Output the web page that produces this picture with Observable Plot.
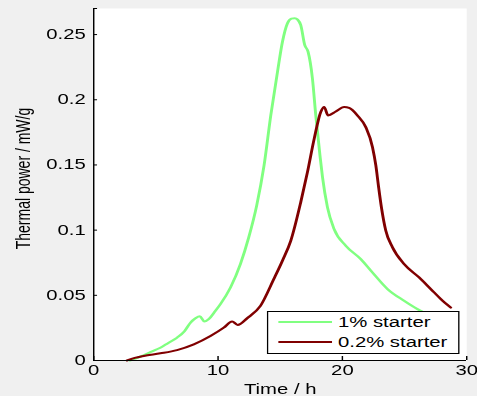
<!DOCTYPE html>
<html>
<head>
<meta charset="utf-8">
<script src="https://cdn.jsdelivr.net/npm/d3@7"></script>
<script src="https://cdn.jsdelivr.net/npm/@observablehq/plot@0.6"></script>
<style>
  html, body { margin: 0; padding: 0; background: #f0f0f0; overflow: hidden; }
  #wrap { position: relative; width: 329px; height: 396px; transform-origin: 0 0;
          font-family: "Liberation Sans", Arial, Helvetica, sans-serif; }
  #legend { position: absolute; box-sizing: border-box; background: #fff; border: 1px solid #000;
            font-size: 14px; color: #000; }
  #legend .row { display: flex; align-items: center; height: 20px; }
  #legend .swatch { display: inline-block; height: 0; border-top: 2px solid; }
</style>
</head>
<body>
<div id="wrap"></div>
<script>
// ---- data ----
const time1 = [2.9, 3.5, 4.0, 4.7, 5.36, 6.0, 6.71, 7.3, 7.78, 8.18, 8.53, 8.9, 9.25, 9.7, 10.19, 11.0, 11.8, 12.47, 13.11, 13.7, 14.24, 14.78, 15.18, 15.58, 15.9, 16.17, 16.4, 16.65, 16.97, 17.24, 17.59, 17.86, 18.2, 18.4, 18.8, 19.33, 20.27, 21.48, 22.42, 23.63, 24.96, 26.04, 27.2, 28.4];
const power1 = [0, 0.002, 0.004, 0.007, 0.0098, 0.0135, 0.0176, 0.0225, 0.029, 0.0324, 0.034, 0.0299, 0.0317, 0.037, 0.0432, 0.056, 0.074, 0.0945, 0.119, 0.1496, 0.188, 0.2214, 0.2445, 0.2586, 0.2622, 0.2626, 0.2615, 0.2573, 0.242, 0.2368, 0.2163, 0.188, 0.157, 0.1406, 0.1175, 0.1009, 0.0881, 0.0778, 0.0675, 0.0548, 0.0458, 0.0394, 0.034, 0.029];
const time02 = [2.68, 3.3, 4.02, 5.36, 6.7, 8.05, 9.39, 10.46, 11.13, 11.58, 12.34, 13.41, 14.48, 15.2, 15.85, 16.65, 17.19, 17.73, 18.26, 18.53, 18.85, 19.47, 20.14, 20.54, 21.21, 21.88, 22.42, 22.69, 22.9, 23.14, 23.49, 24.03, 24.96, 26.17, 27.11, 27.92, 28.72];
const power02 = [0, 0.002, 0.0035, 0.0055, 0.008, 0.0124, 0.0188, 0.0252, 0.0299, 0.0273, 0.0324, 0.0419, 0.0624, 0.077, 0.0919, 0.1214, 0.1445, 0.170, 0.1906, 0.1945, 0.188, 0.191, 0.1945, 0.1937, 0.188, 0.179, 0.1637, 0.1496, 0.134, 0.1175, 0.0996, 0.0868, 0.074, 0.0637, 0.0548, 0.0471, 0.0406];
const seriesNames = ["1% starter", "0.2% starter"];
const seriesColors = ["#80ff80", "#800000"];
const xTicks = [0, 10, 20, 30];
const xTickLabels = ["0", "10", "20", "30"];
const yTicks = [0, 0.05, 0.1, 0.15, 0.2, 0.25];
const yTickLabels = ["0", "0.05", "0.1", "0.15", "0.2", "0.25"];
const xDomain = [0, 30];
const yDomain = [0, 0.27];
const xLabel = "Time / h";
const yLabel = "Thermal power / mW/g";

// ---- layout ----
const W = 329, H = 396, S = 477 / W;   // figure drawn narrow, then stretched horizontally
const mL = 93 / S, mR = W - 466 / S, mT = 8, mB = 36;
const innerW = W - mL - mR, innerH = H - mT - mB;

const rows = [];
time1.forEach((t, i) => rows.push({series: seriesNames[0], t, p: power1[i]}));
time02.forEach((t, i) => rows.push({series: seriesNames[1], t, p: power02[i]}));

const chart = Plot.plot({
  width: W, height: H,
  marginLeft: mL, marginRight: mR, marginTop: mT, marginBottom: mB,
  style: {background: "transparent", fontSize: "14px", fontFamily: "'Liberation Sans', Arial, sans-serif", color: "#000"},
  x: {domain: xDomain},
  y: {domain: yDomain},
  color: {domain: seriesNames, range: seriesColors},
  marks: [
    Plot.frame({fill: "white", stroke: null}),
    Plot.axisX({ticks: xTicks, tickSize: 0, tickPadding: 5, label: null,
                tickFormat: d => xTickLabels[xTicks.indexOf(d)]}),
    Plot.axisY({ticks: yTicks, tickSize: 0, tickPadding: 5.5, label: null,
                tickFormat: d => yTickLabels[yTicks.indexOf(d)]}),
    Plot.tickX(xTicks, {x: d => d, stroke: "black", insetTop: innerH - 4}),
    Plot.tickY([...yTicks, yDomain[1]], {y: d => d, stroke: "black", insetRight: innerW - 2.8}),
    Plot.line(rows, {x: "t", y: "p", stroke: "series", z: "series", strokeWidth: 2, curve: "monotone-x"}),
    Plot.ruleY([yDomain[0]], {stroke: "black"}),
    Plot.ruleX([xDomain[0]], {stroke: "black"}),
    Plot.text([xLabel], {frameAnchor: "bottom", dy: 33, lineAnchor: "bottom", fontSize: 14}),
    Plot.text([yLabel], {frameAnchor: "left", textAnchor: "middle", lineAnchor: "middle", rotate: -90, dx: 16 - mL, dy: -6, fontSize: 14})
  ]
});

const wrap = document.getElementById("wrap");
wrap.style.transform = `scaleX(${S})`;
wrap.appendChild(chart);

// legend (inside plot area, lower right)
const legend = document.createElement("div");
legend.id = "legend";
legend.style.left = (267 / S) + "px";
legend.style.top = "311px";
legend.style.width = ((459 - 267) / S) + "px";
legend.style.height = "43px";
legend.style.paddingLeft = ((279 - 267) / S - 1) + "px";
seriesNames.forEach((name, i) => {
  const row = document.createElement("div");
  row.className = "row";
  const sw = document.createElement("span");
  sw.className = "swatch";
  sw.style.width = ((332 - 279) / S) + "px";
  sw.style.borderTopColor = seriesColors[i];
  sw.style.marginRight = ((338 - 332) / S) + "px";
  const lab = document.createElement("span");
  lab.textContent = name;
  row.appendChild(sw);
  row.appendChild(lab);
  legend.appendChild(row);
});
wrap.appendChild(legend);
</script>
</body>
</html>
